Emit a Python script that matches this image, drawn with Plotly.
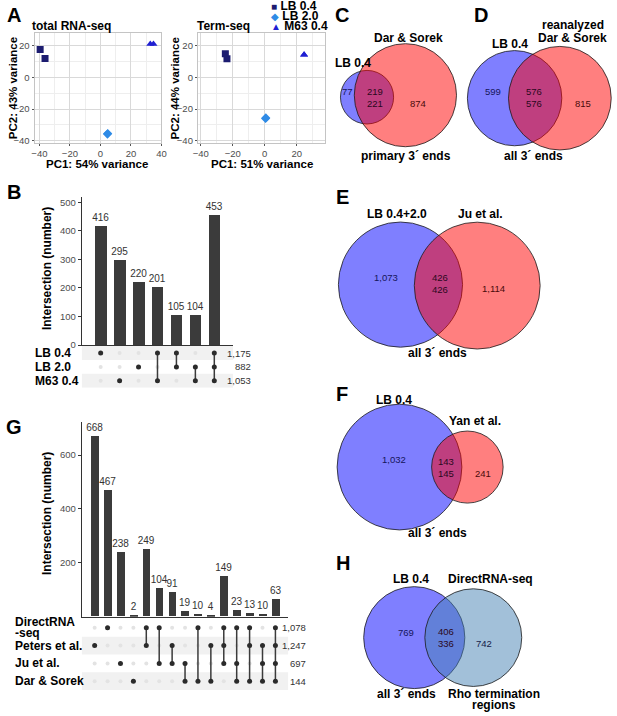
import plotly.graph_objects as go

W, H = 617, 716
FONT = "Liberation Sans, Arial, Helvetica, sans-serif"

# ---------------- data ----------------
# A: PCA of replicates (PC1, PC2) per growth condition
pca_groups = ["LB 0.4", "LB 2.0", "M63 0.4"]
total_pc1 = [[-39.5, -36.3], [4.6, 4.8], [32.7, 34.8]]
total_pc2 = [[17.5, 11.9], [-35.8, -35.4], [21.0, 21.0]]
term_pc1 = [[-24.6, -23.6], [0.5, 0.7], [24.6, 24.6]]
term_pc2 = [[14.8, 11.7], [-26.0, -25.6], [14.2, 14.2]]

# B: upset plot of the three conditions
b_sets = ["LB 0.4", "LB 2.0", "M63 0.4"]
b_set_sizes = [1175, 882, 1053]
b_counts = [416, 295, 220, 201, 105, 104, 453]
b_members = [[0], [2], [1], [0, 2], [0, 1], [1, 2], [0, 1, 2]]

# G: upset plot against published data sets
g_sets = ["DirectRNA\n-seq", "Peters et al.", "Ju et al.", "Dar & Sorek"]
g_set_sizes = [1078, 1247, 697, 144]
g_counts = [668, 467, 238, 2, 249, 104, 91, 19, 10, 4, 149, 23, 13, 10, 63]
g_members = [[1], [0], [2], [3], [0, 1], [0, 2], [1, 2], [2, 3], [0, 3], [1, 3],
             [0, 1, 2], [0, 2, 3], [0, 1, 3], [1, 2, 3], [0, 1, 2, 3]]

# C-H: two-set Venn diagrams
venn_panels = ["C", "D", "E", "F", "H"]
venn_name_a = ["LB 0.4", "LB 0.4", "LB 0.4+2.0", "LB 0.4", "LB 0.4"]
venn_name_b = ["Dar & Sorek", "reanalyzed\nDar & Sorek", "Ju et al.", "Yan et al.", "DirectRNA-seq"]
venn_only_a = [77, 599, 1073, 1032, 769]
venn_both_a = [219, 576, 426, 143, 406]
venn_both_b = [221, 576, 426, 145, 336]
venn_only_b = [874, 815, 1114, 241, 742]
venn_note_a = ["primary 3´ ends", "all 3´ ends", "all 3´ ends", "all 3´ ends", "all 3´ ends"]
venn_note_b = ["", "", "", "", "Rho termination\nregions"]


# ---------------- helpers (pixel -> paper) ----------------
def dx(a, b):
    return [a / W, b / W]


def dy(top, bottom):
    return [1 - bottom / H, 1 - top / H]


annotations = []
shapes = []


def label(x, y, text, size=12, bold=True, color="#000", xanchor="center", angle=0):
    if bold:
        text = "<b>" + text + "</b>"
    annotations.append(dict(x=x / W, y=1 - y / H, xref="paper", yref="paper", text=text,
                            showarrow=False, xanchor=xanchor, yanchor="middle", textangle=angle,
                            font=dict(family=FONT, size=size, color=color)))


def multiline(x, y, text, step=12, **kw):
    lines = text.split("\n")
    y0 = y - step * (len(lines) - 1) / 2
    for k, ln in enumerate(lines):
        label(x, y0 + k * step, ln, **kw)


fig = go.Figure()

# ---------------- A: PCA ----------------
colors = ["#1c1c70", "#2f8be6", "#1f1fd2"]
symbols = ["square", "diamond", "triangle-up"]
msize = [7, 7, 7]

for g in range(3):
    fig.add_trace(go.Scatter(x=total_pc1[g], y=total_pc2[g], mode="markers", xaxis="x", yaxis="y",
                             marker=dict(symbol=symbols[g], color=colors[g], size=msize[g]),
                             name=pca_groups[g], showlegend=False))
    fig.add_trace(go.Scatter(x=term_pc1[g], y=term_pc2[g], mode="markers", xaxis="x2", yaxis="y2",
                             marker=dict(symbol=symbols[g], color=colors[g], size=msize[g]),
                             name=pca_groups[g], showlegend=False))

pca_ax = dict(showgrid=True, gridcolor="#d9d9d9", gridwidth=1, zeroline=False,
              showline=True, linecolor="#c4c4c4", mirror=True,
              ticks="outside", ticklen=2, tickcolor="#555", dtick=20, tick0=0,
              tickfont=dict(family=FONT, size=9.5, color="#4d4d4d"),
              minor=dict(dtick=10, tick0=0, showgrid=True, gridcolor="#eeeeee", ticks=""))

fig.update_layout(
    xaxis=dict(pca_ax, domain=dx(30, 159), range=[-43.2, 40.0], anchor="y", ticklabelstandoff=0),
    yaxis=dict(pca_ax, domain=dy(32, 143), range=[-41.3, 28.1], anchor="x"),
    xaxis2=dict(pca_ax, domain=dx(196, 325), range=[-41.8, 37.5], anchor="y2", ticklabelstandoff=0),
    yaxis2=dict(pca_ax, domain=dy(32, 143), range=[-41.3, 28.1], anchor="x2"),
)

label(25, 25, "total RNA-seq", xanchor="left")
label(193, 25, "Term-seq", xanchor="left")
label(94, 164, "PC1: 54% variance", size=11.5)
label(261, 164, "PC1: 51% variance", size=11.5)
label(8, 88, "PC2: 43% variance", size=11.5, angle=-90)
label(173, 88, "PC2: 44% variance", size=11.5, angle=-90)

glyphs = ["■", "◆", "▲"]
for g, yy in enumerate([5, 15, 25.5]):
    annotations.append(dict(x=268 / W, y=1 - yy / H, xref="paper", yref="paper", showarrow=False,
                            xanchor="left", yanchor="middle",
                            text="<span style='color:%s;font-size:10px'>%s</span> <b>%s</b>"
                                 % (colors[g], glyphs[g], pca_groups[g]),
                            font=dict(family=FONT, size=12, color="#000")))


# ---------------- B and G: upset plots ----------------
def upset(counts, members, sets, sizes, n_ax, bar_top, bar_bottom, x_right, ymax, yticks,
          mat_top, row_h, size_right, label_left):
    xb, yb = "x%d" % n_ax, "y%d" % n_ax
    xm, ym = "x%d" % (n_ax + 1), "y%d" % (n_ax + 1)
    n = len(counts)
    nr = len(sets)
    cols = list(range(1, n + 1))

    fig.add_trace(go.Bar(x=cols, y=counts, width=0.6, marker_color="#3b3b3b", marker_line_width=0,
                         text=[str(c) for c in counts], textposition="outside", cliponaxis=False,
                         constraintext="none",
                         outsidetextfont=dict(family=FONT, size=10, color="#333"),
                         textfont=dict(family=FONT, size=10, color="#333"),
                         xaxis=xb, yaxis=yb, showlegend=False))

    off_x, off_y, on_x, on_y, ln_x, ln_y = [], [], [], [], [], []
    for i, mem in enumerate(members):
        for j in range(nr):
            if j in mem:
                on_x.append(i + 1)
                on_y.append(j + 1)
            else:
                off_x.append(i + 1)
                off_y.append(j + 1)
        if len(mem) > 1:
            ln_x += [i + 1, i + 1, None]
            ln_y += [min(mem) + 1, max(mem) + 1, None]

    fig.add_trace(go.Scatter(x=off_x, y=off_y, mode="markers", xaxis=xm, yaxis=ym, showlegend=False,
                             marker=dict(color="#e3e3e3", size=4)))
    fig.add_trace(go.Scatter(x=ln_x, y=ln_y, mode="lines", xaxis=xm, yaxis=ym, showlegend=False,
                             line=dict(color="#3b3b3b", width=1.5)))
    fig.add_trace(go.Scatter(x=on_x, y=on_y, mode="markers", xaxis=xm, yaxis=ym, showlegend=False,
                             marker=dict(color="#2b2b2b", size=5)))

    mat_bottom = mat_top + row_h * nr
    xr = [0, n + 1]
    fig.update_layout(**{
        "xaxis%d" % n_ax: dict(domain=dx(78, x_right), range=xr, anchor=yb, showgrid=False,
                               zeroline=False, showticklabels=False, ticks="",
                               showline=True, linecolor="#333", linewidth=1),
        "yaxis%d" % n_ax: dict(domain=dy(bar_top, bar_bottom), range=[0, ymax], anchor=xb,
                               showgrid=False, zeroline=False, showline=True, linecolor="#333",
                               linewidth=1, ticks="outside", ticklen=3, tickcolor="#333",
                               tickvals=yticks, tickfont=dict(family=FONT, size=9.5, color="#4d4d4d")),
        "xaxis%d" % (n_ax + 1): dict(domain=dx(78, x_right), range=xr, anchor=ym, visible=False),
        "yaxis%d" % (n_ax + 1): dict(domain=dy(mat_top, mat_bottom), range=[nr + 0.5, 0.5],
                                     anchor=xm, visible=False),
    })

    for j in range(nr):
        if (nr - 1 - j) % 2 == 0:
            shapes.append(dict(type="rect", xref=xm, yref=ym, x0=xr[0], x1=xr[1],
                               y0=j + 0.5, y1=j + 1.5, fillcolor="#f1f1f1", line=dict(width=0),
                               layer="below"))
        annotations.append(dict(x=size_right / W, xref="paper", y=j + 1, yref=ym, showarrow=False,
                                xanchor="right", yanchor="middle", text="{:,}".format(sizes[j]),
                                font=dict(family=FONT, size=9.5, color="#333")))
        lines = sets[j].split("\n")
        for k, ln in enumerate(lines):
            shift = (len(lines) - 1) * 5.5 - k * 11
            annotations.append(dict(x=label_left / W, xref="paper", y=j + 1, yref=ym,
                                    showarrow=False, xanchor="left", yanchor="middle", yshift=shift,
                                    text="<b>%s</b>" % ln,
                                    font=dict(family=FONT, size=12, color="#000")))


upset(b_counts, b_members, b_sets, b_set_sizes, 3, 198, 347, 232, 517,
      [0, 100, 200, 300, 400, 500], 348, 14, 252, 28)
upset(g_counts, g_members, g_sets, g_set_sizes, 5, 425, 621, 288, 721,
      [200, 400, 600], 623, 18, 308, 8)

label(42, 270, "Intersection (number)", size=12, angle=-90)
label(42, 517, "Intersection (number)", size=12, angle=-90)

# ---------------- C-H: Venn diagrams ----------------
# per panel: centre A, centre B, px per sqrt(count), label and number positions
venn_layout = [
    dict(ca=(368, 97), cb=(407, 95), k=1.57, col_b="rgba(255,0,0,0.5)",
         na=(354, 63), nb=(410, 37), note=(408, 156), oa=(348, 91), mid=(376, 97), ob=(420, 103)),
    dict(ca=(518, 98), cb=(564, 98), k=1.40, col_b="rgba(255,0,0,0.5)",
         na=(513, 43), nb=(577, 31), note=(537, 156), oa=(496, 91), mid=(538, 97), ob=(588, 103)),
    dict(ca=(402, 286), cb=(480, 287), k=1.63, col_b="rgba(255,0,0,0.5)",
         na=(398, 215), nb=(483, 215), note=(440, 355), oa=(387, 279), mid=(442, 285), ob=(497, 290)),
    dict(ca=(401, 470), cb=(470, 470), k=1.85, col_b="rgba(255,0,0,0.5)",
         na=(395, 402), nb=(478, 424), note=(440, 536), oa=(395, 462), mid=(448, 470), ob=(486, 476)),
    dict(ca=(416, 642), cb=(476, 642), k=1.50, col_b="rgba(70,130,180,0.5)",
         na=(413, 583), nb=(493, 583), note=(408, 699), oa=(408, 637), mid=(448, 642), ob=(487, 648),
         noteb=(497, 704)),
]

for v, lay in enumerate(venn_layout):
    ra = lay["k"] * (venn_only_a[v] + venn_both_a[v]) ** 0.5
    rb = lay["k"] * (venn_only_b[v] + venn_both_b[v]) ** 0.5
    for (cx, cy), r, col in [(lay["ca"], ra, "rgba(0,0,255,0.5)"), (lay["cb"], rb, lay["col_b"])]:
        shapes.append(dict(type="circle", xref="paper", yref="paper",
                           x0=(cx - r) / W, x1=(cx + r) / W, y0=1 - (cy + r) / H, y1=1 - (cy - r) / H,
                           fillcolor=col, line=dict(color="#1a1a1a", width=0.8)))
    multiline(*lay["na"], venn_name_a[v], size=12)
    multiline(*lay["nb"], venn_name_b[v], step=13, size=12)
    label(*lay["note"], venn_note_a[v], size=12)
    if venn_note_b[v]:
        multiline(*lay["noteb"], venn_note_b[v], step=11, size=12)
    label(*lay["oa"], "{:,}".format(venn_only_a[v]), size=9.5, bold=False, color="#15155a")
    label(lay["mid"][0], lay["mid"][1] - 6, "{:,}".format(venn_both_a[v]), size=9.5, bold=False,
          color="#2a0820")
    label(lay["mid"][0], lay["mid"][1] + 6, "{:,}".format(venn_both_b[v]), size=9.5, bold=False,
          color="#2a0820")
    ob_col = "#4a0a0a" if v < 4 else "#15204a"
    label(*lay["ob"], "{:,}".format(venn_only_b[v]), size=9.5, bold=False, color=ob_col)

# ---------------- panel letters ----------------
for letter, (x, y) in zip("ABCDEFGH", [(9, 14), (9, 193), (343, 14), (484, 14),
                                         (343, 198), (343, 396), (9, 430), (344, 567)]):
    label(x, y, letter, size=20)

fig.update_layout(width=W, height=H, margin=dict(l=0, r=0, t=0, b=0),
                  paper_bgcolor="white", plot_bgcolor="white", showlegend=False,
                  bargap=0, font=dict(family=FONT, color="#000"),
                  annotations=annotations, shapes=shapes)

# the page's default body margin would shift the figure by 8px
fig.write_html("out.html", config={"displayModeBar": False},
               post_script="document.body.style.margin='0';")
